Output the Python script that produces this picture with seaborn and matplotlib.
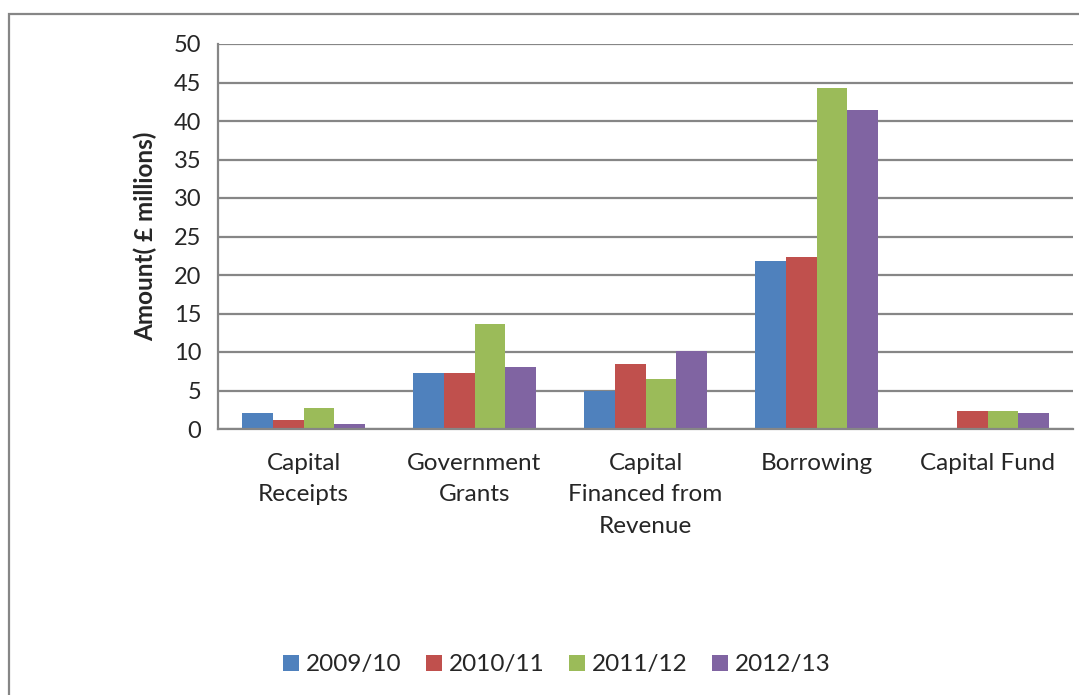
import matplotlib
matplotlib.use("Agg")
import matplotlib.pyplot as plt
import seaborn as sns
import numpy as np
import pandas as pd
from matplotlib.patches import Rectangle, Patch

categories = ["Capital\nReceipts", "Government\nGrants", "Capital\nFinanced from\nRevenue", "Borrowing", "Capital Fund"]
years = ["2009/10", "2010/11", "2011/12", "2012/13"]
v2009 = [2.1, 7.3, 4.9, 21.8, np.nan]
v2010 = [1.2, 7.3, 8.4, 22.3, 2.4]
v2011 = [2.7, 13.7, 6.5, 44.3, 2.4]
v2012 = [0.7, 8.1, 10.1, 41.4, 2.1]
colors = ["#4F81BD", "#C0504D", "#9BBB59", "#8064A2"]

rows = []
for yr, vals in zip(years, [v2009, v2010, v2011, v2012]):
    for c, v in zip(categories, vals):
        rows.append({"Category": c, "Year": yr, "Value": v})
df = pd.DataFrame(rows)

sns.set_style("white")
plt.rcParams['font.family'] = ['Lato', 'DejaVu Sans']

fig = plt.figure(figsize=(10.79, 6.95), dpi=100)
ax = fig.add_axes([218/1079, (695-429)/695, (1073-218)/1079, (429-44)/695])

sns.barplot(data=df, x="Category", y="Value", hue="Year", palette=colors,
            order=categories, hue_order=years, width=0.725, saturation=1,
            edgecolor="none", linewidth=0, ax=ax, legend=False)

ax.set_ylim(0, 50)
ax.set_xlim(-0.5, 4.5)
ax.set_yticks(np.arange(0, 51, 5))
ax.yaxis.grid(True, color="#868686", linewidth=1.6)
ax.set_axisbelow(True)
for s in ["top", "right"]:
    ax.spines[s].set_visible(False)
for s in ["left", "bottom"]:
    ax.spines[s].set_color("#868686")
    ax.spines[s].set_linewidth(1.6)

ax.tick_params(axis="y", which="major", length=8, width=1.6, color="#868686",
               labelsize=17, pad=4)
ax.set_xticks(range(len(categories)))
ax.set_xticklabels(categories, fontsize=17.5, linespacing=1.62)
ax.tick_params(axis="x", which="major", length=0, pad=17)
ax.set_xticks(np.arange(-0.5, 4.6, 1.0), minor=True)
ax.tick_params(axis="x", which="minor", length=8, width=1.6, color="#868686")

ax.set_xlabel("")
ax.set_ylabel("Amount( £ millions)", fontsize=17.5, fontweight="bold", labelpad=12)

handles = [Patch(facecolor=c, edgecolor="none") for c in colors]
fig.legend(handles, years, loc="center", bbox_to_anchor=(557/1079, 1-665/695),
           ncol=4, frameon=False, fontsize=17.5, handlelength=0.65, handleheight=0.65,
           handletextpad=0.3, columnspacing=1.0)

fig.patches.append(Rectangle((9/1079, -0.05), 1.1, 1 - 14/695 + 0.05,
                             transform=fig.transFigure, fill=False,
                             edgecolor="#868686", linewidth=1.6, zorder=0))

fig.savefig("out.png", dpi=100)
